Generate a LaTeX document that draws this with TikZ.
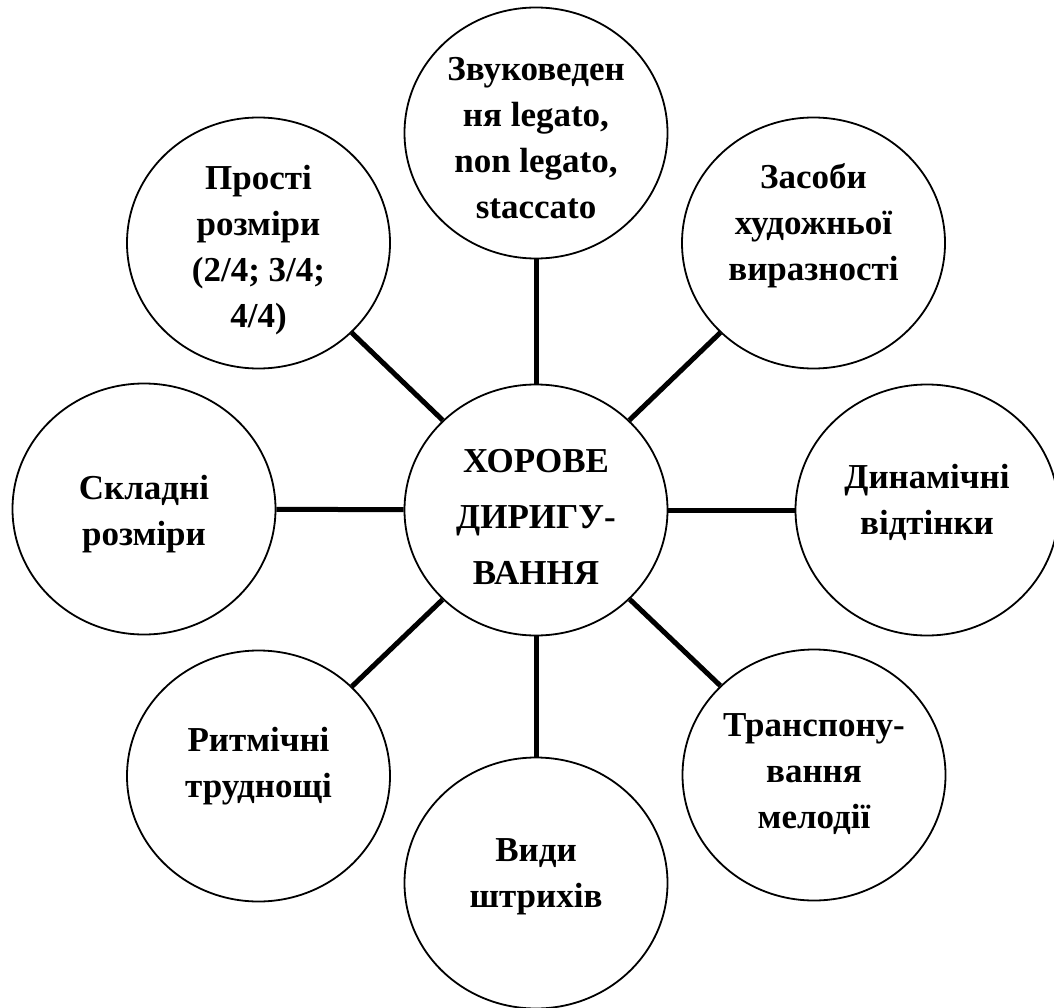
\documentclass[tikz,border=0pt]{standalone}
\usepackage{fontspec}
\setmainfont{Liberation Serif}
\usetikzlibrary{shapes.geometric}
\begin{document}
\begin{tikzpicture}[x=1pt,y=-1pt,
  bubble/.style={draw=black, line width=1.8pt, ellipse, minimum width=263pt, minimum height=251pt, inner sep=0pt, fill=white},
  lbl/.style={align=center, font=\bfseries\fontsize{35}{46}\selectfont, inner sep=0pt},
  clbl/.style={align=center, font=\bfseries\fontsize{35}{56}\selectfont, inner sep=0pt},
  spoke/.style={line width=5pt, black}]
\useasboundingbox (0,0) rectangle (1054,1008);
\node[bubble] (c) at (536,510) {};
\node[bubble] (t) at (536,133) {};
\node[bubble] (tl) at (258.5,243) {};
\node[bubble] (tr) at (813.5,243) {};
\node[bubble] (l) at (144,509) {};
\node[bubble] (r) at (927,510) {};
\node[bubble] (bl) at (258.5,776) {};
\node[bubble] (br) at (814,775) {};
\node[bubble] (b) at (536,883) {};
\foreach \n in {t,tl,tr,l,r,bl,br,b} \draw[spoke] (c) -- (\n);
\node[clbl] (cT) at (536,517) {ХОРОВЕ\\ДИРИГУ-\\ВАННЯ};
\node[lbl] (tT) at (536,138) {Звуковеден\\ня legato,\\non legato,\\staccato};
\node[lbl] (tlT) at (258.5,250) {Прості\\розміри\\(2/4; 3/4;\\4/4)};
\node[lbl] (trT) at (813.5,226) {Засоби\\художньої\\виразності};
\node[lbl] (lT) at (144,514) {Складні\\розміри};
\node[lbl] (rT) at (927,502) {Динамічні\\відтінки};
\node[lbl] (blT) at (258.5,766) {Ритмічні\\труднощі};
\node[lbl] (brT) at (814,774) {Транспону-\\вання\\мелодії};
\node[lbl] (bT) at (536,877) {Види\\штрихів};
\end{tikzpicture}
\end{document}
